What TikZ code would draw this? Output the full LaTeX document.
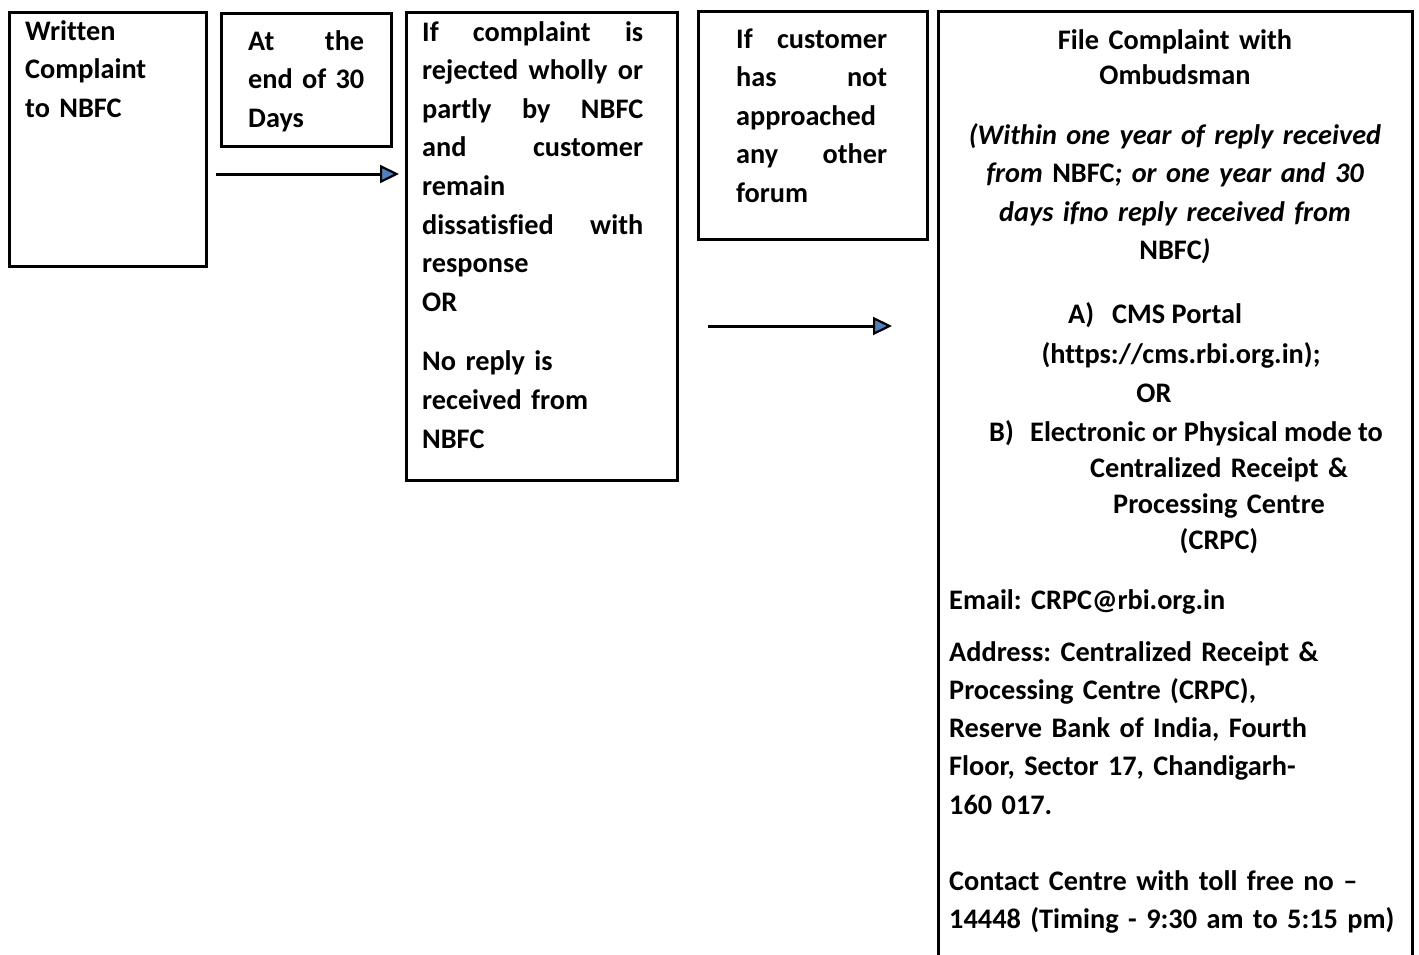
\documentclass[tikz,border=0pt]{standalone}
\usepackage{fontspec}
\setmainfont{Carlito}[Ligatures=NoCommon]
\usetikzlibrary{positioning, arrows.meta}
\definecolor{tipblue}{RGB}{79,129,189}
\frenchspacing

\tikzset{
  box/.style={draw, line width=2.5pt, anchor=north west, inner sep=0pt},
  txt/.style={inner sep=0pt, align=left, anchor=base west, font=\bfseries\fontsize{28.3}{38.6}\selectfont},
  ctxt/.style={txt, align=center, anchor=base},
  flow/.style={line width=3pt, -{Triangle[length=19pt, width=18pt, fill=tipblue, line width=2.2pt]}}
}

\begin{document}
\begin{tikzpicture}[x=1pt, y=-1pt]
    \useasboundingbox (0,0) rectangle (1419,954);
    \clip (0,0) rectangle (1419,954);
    % Boxes
    \node (written) [box, minimum width=197, minimum height=254] at (8,11) {};
    \node (days) [box, minimum width=170, minimum height=133] at (220,12) {};
    \node (rejected) [box, minimum width=271, minimum height=468] at (405,11) {};
    \node (forum) [box, minimum width=229, minimum height=228] at (697,10) {};
    \node (ombudsman) [box, minimum width=474, minimum height=980] at (937,10) {};
    % Box texts
    \node (writtenTxt) [txt, text width=175] at (25,40) {Written\\Complaint\\to NBFC};
    \node (daysTxt) [txt, text width=116] at (248,50) {At\hfill the\\end\hfill of\hfill 30\\Days};
    \node (rejectedTxt) [txt, text width=221] at (422,41) {If\hfill complaint\hfill is\\rejected\hfill wholly\hfill or\\partly\hfill by\hfill NBFC\\and\hfill customer\\remain\\dissatisfied\hfill with\\response\\OR\\[21pt]No reply is\\received from\\NBFC};
    \node (forumTxt) [txt, text width=151] at (736,48) {If\hfill customer\\has\hfill not\\approached\\any\hfill other\\forum};
    % Ombudsman box texts
    \node (omHead) [ctxt, text width=460, font=\bfseries\fontsize{28.3}{35}\selectfont] at (1175,49) {File Complaint with\\Ombudsman};
    \node (omWithin) [ctxt, text width=460] at (1175,144) {\itshape (Within one year of reply received\\from {\upshape NBFC}; or one year and 30\\days ifno reply received from\\{\upshape NBFC})};
    \node (itemA) [txt] at (1068,323) {\makebox[44pt][l]{A)}CMS Portal};
    \node (portal) [ctxt] at (1181,363) {(https://cms.rbi.org.in);};
    \node (omOr) [ctxt] at (1154,402) {OR};
    \node (itemB) [txt] at (989,441) {\makebox[41pt][l]{B)}Electronic or Physical mode to};
    \node (crpc) [ctxt, text width=300, font=\bfseries\fontsize{28.3}{36}\selectfont] at (1219,477) {Centralized Receipt \&\\Processing Centre\\(CRPC)};
    \node (email) [txt, text width=455] at (949,609) {Email: CRPC@rbi.org.in};
    \node (address) [txt, text width=455, font=\bfseries\fontsize{28.3}{38.3}\selectfont] at (949,661) {Address: Centralized Receipt \&\\Processing Centre (CRPC),\\Reserve Bank of India, Fourth\\Floor, Sector 17, Chandigarh-\\160 017.};
    \node (contact) [txt, text width=455] at (949,890) {Contact Centre with toll free no –\\14448 (Timing - 9:30 am to 5:15 pm)};
    % Arrows
    \coordinate (flowAs) at (216,174);
    \coordinate (flowAe) at (399,174);
    \coordinate (flowBs) at (708,326);
    \coordinate (flowBe) at (892,326);
    \draw [flow] (flowAs) -- (flowAe);
    \draw [flow] (flowBs) -- (flowBe);
\end{tikzpicture}
\end{document}
